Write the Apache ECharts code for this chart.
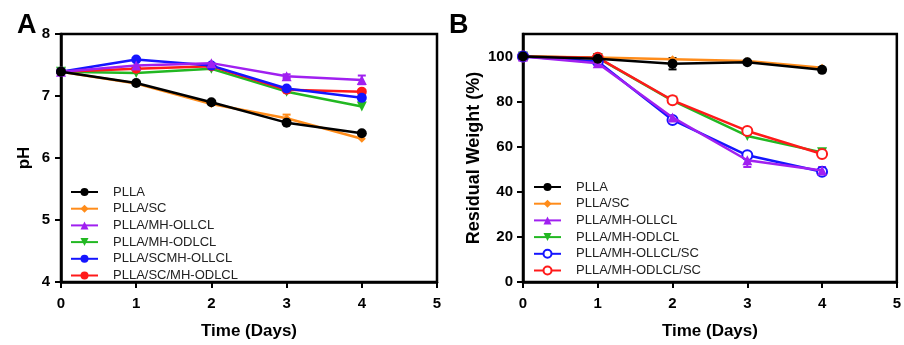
<!DOCTYPE html>
<html><head><meta charset="utf-8">
<script src="https://cdn.jsdelivr.net/npm/echarts@6/dist/echarts.min.js"></script>
<style>html,body{margin:0;padding:0;background:#fff}#c{width:904px;height:345px}</style>
</head><body><div id="c"></div>
<script>
const days = [0, 1, 2, 3, 4];
const xTicks = [0, 1, 2, 3, 4, 5];
const phTicks = [4, 5, 6, 7, 8];
const wTicks = [0, 20, 40, 60, 80, 100];

const phNames = ['PLLA', 'PLLA/SC', 'PLLA/MH-OLLCL', 'PLLA/MH-ODLCL', 'PLLA/SCMH-OLLCL', 'PLLA/SC/MH-ODLCL'];
const phPLLA     = [7.39, 7.21, 6.90, 6.57, 6.40];
const phSC       = [7.39, 7.20, 6.87, 6.64, 6.31];
const phOLLCL    = [7.39, 7.49, 7.53, 7.32, 7.26];
const phODLCL    = [7.39, 7.37, 7.44, 7.07, 6.83];
const phSCOLLCL  = [7.39, 7.59, 7.49, 7.12, 6.97];
const phSCODLCL  = [7.39, 7.44, 7.48, 7.10, 7.07];
const phSCErr    = [0, 0, 0, 0.06, 0];
const phOLLCLErr = [0, 0, 0, 0.03, 0.07];

const wNames = ['PLLA', 'PLLA/SC', 'PLLA/MH-OLLCL', 'PLLA/MH-ODLCL', 'PLLA/MH-OLLCL/SC', 'PLLA/MH-ODLCL/SC'];
const wPLLA     = [100, 99.0, 96.8, 97.5, 94.1];
const wSC       = [100, 99.6, 98.8, 98.0, 95.0];
const wOLLCL    = [100, 97.0, 73.0, 54.0, 49.5];
const wODLCL    = [100, 99.4, 80.4, 64.8, 57.5];
const wOLLCLSC  = [100, 97.8, 71.9, 56.2, 48.9];
const wODLCLSC  = [100, 99.5, 80.6, 67.0, 56.8];
const wPLLAErr  = [0, 0, 2.5, 0, 0];
const wOLLCLErr = [0, 0, 0, 3.0, 1.5];

const C = {black:'#000000', orange:'#FF8C1A', purple:'#A020F0', green:'#22B822', blue:'#1515FF', red:'#FF1A1A'};
const FONT = "'Liberation Sans', Arial, sans-serif";
const invTri = 'path://M0,0 L10,0 L5,9 Z';

function pts(arr){ return days.map((d,i)=>[d, arr[i]]); }
function lineS(name, arr, color, symbol, size, idx, z, empty){
  return {type:'line', name, data:pts(arr), xAxisIndex:idx, yAxisIndex:idx, z,
    symbol, symbolSize:size, showSymbol:true,
    lineStyle:{color, width:2.5},
    itemStyle: empty ? {color, borderColor:color, borderWidth:2} : {color, borderWidth:0},
    emphasis:{disabled:true}};
}
function errS(arr, err, color, idx){
  const data = days.map((d,i)=>[d, arr[i], err[i]]).filter(p=>p[2]>0);
  return {type:'custom', xAxisIndex:idx, yAxisIndex:idx, z:1, silent:true, data,
    renderItem:(params, api)=>{
      const x=api.value(0), y=api.value(1), e=api.value(2);
      const t=api.coord([x,y+e]), b=api.coord([x,y-e]);
      const w=4, st={stroke:color, lineWidth:2};
      return {type:'group', children:[
        {type:'line', shape:{x1:t[0],y1:t[1],x2:b[0],y2:b[1]}, style:st},
        {type:'line', shape:{x1:t[0]-w,y1:t[1],x2:t[0]+w,y2:t[1]}, style:st},
        {type:'line', shape:{x1:b[0]-w,y1:b[1],x2:b[0]+w,y2:b[1]}, style:st}
      ]};
    }};
}
const axisLab = {color:'#000', fontFamily:FONT, fontWeight:'bold', fontSize:15};
const axisNameStyle = {color:'#000', fontFamily:FONT, fontWeight:'bold', fontSize:17};
function xAx(idx){
  return {type:'value', gridIndex:idx, min:0, max:5, interval:1,
    name:'Time (Days)', nameLocation:'middle', nameGap:41, nameTextStyle:axisNameStyle,
    axisLine:{show:true, onZero:false, lineStyle:{color:'#000', width:2.5}},
    axisTick:{show:true, length:6, lineStyle:{color:'#000', width:2}},
    axisLabel:Object.assign({margin:14}, axisLab),
    splitLine:{show:false}};
}
const legendBase = {orient:'vertical', padding:0, itemWidth:27, itemHeight:10, itemGap:2.7,
  selectedMode:false,
  textStyle:{fontFamily:FONT, fontSize:13, lineHeight:14, color:'#222', padding:[0,0,0,10]}};

const option = {
  animation:false,
  backgroundColor:'#fff',
  grid:[
    {left:61, top:34, width:376, height:251, show:true, borderColor:'#000', borderWidth:2.5},
    {left:523, top:34, width:378, height:251, show:true, borderColor:'#000', borderWidth:2.5}
  ],
  xAxis:[xAx(0), xAx(1)],
  yAxis:[
    {type:'value', gridIndex:0, min:4, max:8, interval:1,
     name:'pH', nameLocation:'middle', nameGap:28, nameTextStyle:axisNameStyle,
     axisLine:{show:true, onZero:false, lineStyle:{color:'#000', width:2.5}},
     axisTick:{show:true, length:6, lineStyle:{color:'#000', width:2}},
     axisLabel:Object.assign({margin:11}, axisLab), splitLine:{show:false}},
    {type:'value', gridIndex:1, min:0, max:110, interval:20,
     name:'Residual Weight (%)', nameLocation:'middle', nameGap:40,
     nameTextStyle:Object.assign({}, axisNameStyle, {fontSize:18}),
     axisLine:{show:true, onZero:false, lineStyle:{color:'#000', width:2.5}},
     axisTick:{show:true, length:6, customValues:wTicks, lineStyle:{color:'#000', width:2}},
     axisLabel:Object.assign({margin:10, customValues:wTicks}, axisLab), splitLine:{show:false}}
  ],
  legend:[
    Object.assign({left:70, top:185, data:phNames}, legendBase),
    Object.assign({left:533, top:180, data:wNames}, legendBase)
  ],
  graphic:[
    {type:'text', left:17, top:12, style:{text:'A', font:'bold 27px ' + FONT, fill:'#000'}},
    {type:'text', left:449, top:12, style:{text:'B', font:'bold 27px ' + FONT, fill:'#000'}}
  ],
  series:[
    errS(phSC, phSCErr, C.orange, 0),
    errS(phOLLCL, phOLLCLErr, C.purple, 0),
    lineS('PLLA/SC', phSC, C.orange, 'diamond', 8, 0, 2),
    lineS('PLLA/MH-ODLCL', phODLCL, C.green, invTri, 10, 0, 3),
    lineS('PLLA/SC/MH-ODLCL', phSCODLCL, C.red, 'circle', 10, 0, 4),
    lineS('PLLA/SCMH-OLLCL', phSCOLLCL, C.blue, 'circle', 10, 0, 5),
    lineS('PLLA/MH-OLLCL', phOLLCL, C.purple, 'triangle', 10, 0, 6),
    lineS('PLLA', phPLLA, C.black, 'circle', 10, 0, 7),

    errS(wPLLA, wPLLAErr, C.black, 1),
    errS(wOLLCL, wOLLCLErr, C.purple, 1),
    lineS('PLLA/SC', wSC, C.orange, 'diamond', 8, 1, 2),
    lineS('PLLA/MH-ODLCL', wODLCL, C.green, invTri, 10, 1, 3),
    lineS('PLLA/MH-ODLCL/SC', wODLCLSC, C.red, 'emptyCircle', 10, 1, 4, true),
    lineS('PLLA/MH-OLLCL/SC', wOLLCLSC, C.blue, 'emptyCircle', 10, 1, 5, true),
    lineS('PLLA/MH-OLLCL', wOLLCL, C.purple, 'triangle', 10, 1, 6),
    lineS('PLLA', wPLLA, C.black, 'circle', 10, 1, 7)
  ]
};
const chart = echarts.init(document.getElementById('c'), null, {renderer:'canvas'});
chart.setOption(option);
</script>
</body></html>
